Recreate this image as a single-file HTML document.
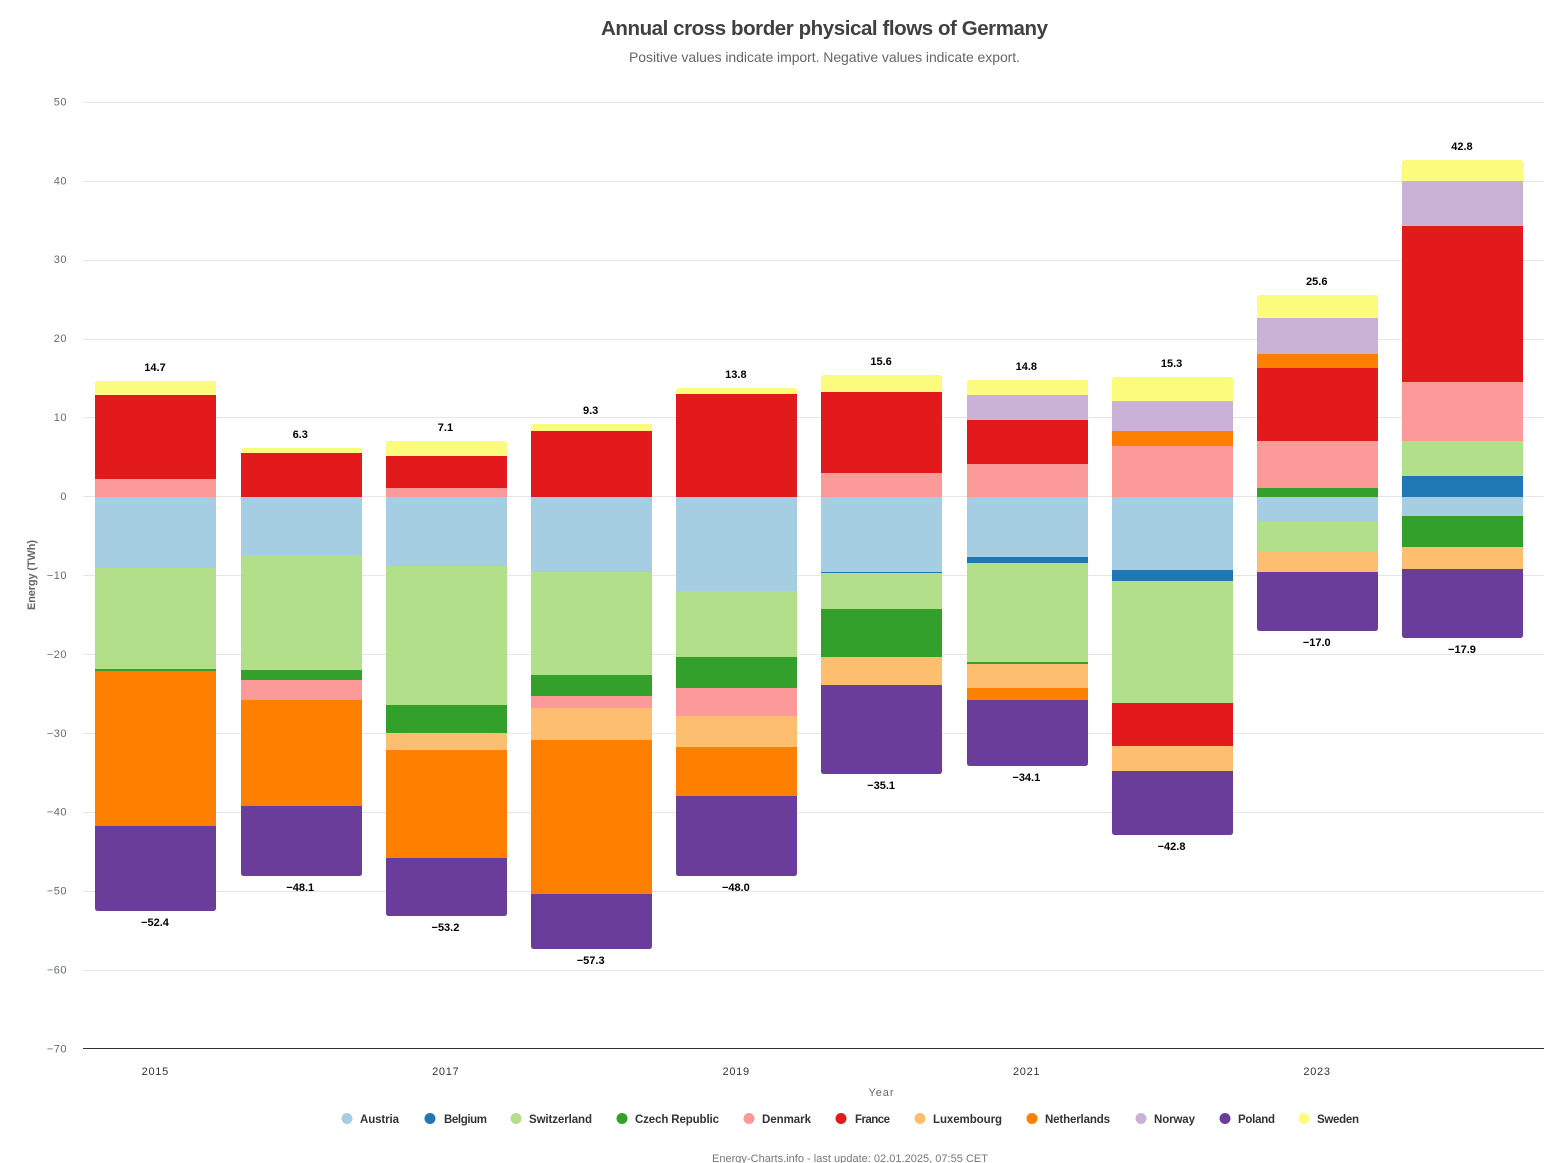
<!DOCTYPE html>
<html lang="en">
<head>
<meta charset="utf-8">
<title>Annual cross border physical flows of Germany</title>
<style>
html,body{margin:0;padding:0;background:#fff;width:1544px;height:1163px;overflow:hidden}
svg{display:block;font-family:"Liberation Sans",sans-serif}
</style>
</head>
<body>
<svg id="chart" xmlns="http://www.w3.org/2000/svg" width="1544" height="1163" viewBox="0 0 1544 1163">
  <rect x="0" y="0" width="1544" height="1163" fill="#ffffff"/>
  <text x="824.5" y="35" text-anchor="middle" font-size="20.5" font-weight="bold" fill="#404040" textLength="447">Annual cross border physical flows of Germany</text>
  <text x="824.5" y="62" text-anchor="middle" font-size="14" fill="#666666" textLength="391">Positive values indicate import. Negative values indicate export.</text>
  <g id="grid"></g>
  <g id="ylabels"></g>
  <g id="bars"></g>
  <g id="values"></g>
  <rect x="83" y="1048" width="1461" height="1" fill="#333333"/>
  <g id="xlabels"></g>
  <text transform="translate(35 575) rotate(-90)" text-anchor="middle" font-size="11" font-weight="bold" fill="#666666" textLength="70">Energy (TWh)</text>
  <text x="881" y="1096" text-anchor="middle" font-size="11" fill="#666666" textLength="25">Year</text>

  <g font-size="11.5" font-weight="bold" fill="#333333">
    <g><circle cx="347" cy="1118.5" r="5.5" fill="#a6cee3"/><text x="360" y="1123" textLength="39">Austria</text></g>
    <g><circle cx="430" cy="1118.5" r="5.5" fill="#1f78b4"/><text x="444" y="1123" textLength="43">Belgium</text></g>
    <g><circle cx="516" cy="1118.5" r="5.5" fill="#b2df8a"/><text x="529" y="1123" textLength="63">Switzerland</text></g>
    <g><circle cx="622" cy="1118.5" r="5.5" fill="#33a02c"/><text x="635" y="1123" textLength="84">Czech Republic</text></g>
    <g><circle cx="749" cy="1118.5" r="5.5" fill="#fb9a99"/><text x="762" y="1123" textLength="49">Denmark</text></g>
    <g><circle cx="841" cy="1118.5" r="5.5" fill="#e31a1c"/><text x="855" y="1123" textLength="35">France</text></g>
    <g><circle cx="920" cy="1118.5" r="5.5" fill="#fdbf6f"/><text x="933" y="1123" textLength="69">Luxembourg</text></g>
    <g><circle cx="1032" cy="1118.5" r="5.5" fill="#ff7f00"/><text x="1045" y="1123" textLength="65">Netherlands</text></g>
    <g><circle cx="1141" cy="1118.5" r="5.5" fill="#cab2d6"/><text x="1154" y="1123" textLength="41">Norway</text></g>
    <g><circle cx="1225" cy="1118.5" r="5.5" fill="#6a3d9a"/><text x="1238" y="1123" textLength="37">Poland</text></g>
    <g><circle cx="1304" cy="1118.5" r="5.5" fill="#fbfb7d"/><text x="1317" y="1123" textLength="42">Sweden</text></g>
  </g>

  <text x="850" y="1162" text-anchor="middle" font-size="11" fill="#777777" textLength="276">Energy-Charts.info - last update: 02.01.2025, 07:55 CET</text>
</svg>

<script>
const categories = ["2015","2016","2017","2018","2019","2020","2021","2022","2023","2024"];
const axisTicks = [50,40,30,20,10,0,-10,-20,-30,-40,-50,-60,-70];
const shownYears = ["2015","2017","2019","2021","2023"];

const austria     = [-9.0,-7.35,-8.75,-9.5,-11.95,-9.5,-7.6,-9.25,-3.15,-2.4];
const belgium     = [0,0,0,0,0,-0.15,-0.8,-1.4,0,2.65];
const switzerland = [-12.8,-14.6,-17.6,-13.05,-8.35,-4.55,-12.55,-15.45,-3.8,4.45];
const czech       = [-0.25,-1.25,-3.55,-2.65,-3.95,-6.1,-0.2,0,1.1,-3.95];
const denmark     = [2.3,-2.5,1.15,-1.5,-3.55,3.05,4.2,6.45,6.0,7.45];
const france      = [10.65,5.57,4.05,8.35,13.05,10.25,5.6,-5.45,9.25,19.8];
const luxembourg  = [0,0,-2.15,-4.05,-3.9,-3.55,-3.05,-3.15,-2.55,-2.8];
const netherlands = [-19.65,-13.45,-13.7,-19.55,-6.2,0,-1.5,1.9,1.8,0];
const norway      = [0,0,0,0,0,0,3.15,3.8,4.55,5.7];
const poland      = [-10.75,-8.9,-7.4,-7.0,-10.1,-11.25,-8.4,-8.1,-7.5,-8.75];
const sweden      = [1.77,0.67,1.9,0.95,0.75,2.2,1.85,3.1,2.9,2.65];

const importTotals = ["14.7","6.3","7.1","9.3","13.8","15.6","14.8","15.3","25.6","42.8"];
const exportTotals = ["-52.4","-48.1","-53.2","-57.3","-48.0","-35.1","-34.1","-42.8","-17.0","-17.9"];

const seriesNames = ["austria","belgium","switzerland","czech-republic","denmark","france","luxembourg","netherlands","norway","poland","sweden"];
const seriesValues = [austria,belgium,switzerland,czech,denmark,france,luxembourg,netherlands,norway,poland,sweden];
const seriesColors = ["#a6cee3","#1f78b4","#b2df8a","#33a02c","#fb9a99","#e31a1c","#fdbf6f","#ff7f00","#cab2d6","#6a3d9a","#fbfb7d"];

const NS = "http://www.w3.org/2000/svg";
const BAR_WIDTH = 121;
const RADIUS = 3;
function xCenter(i){ return 155.6 + i * 145.22; }
function yBar(v){ return Math.round(497 - v * 7.89); }
function yGrid(v){ return Math.round(496.3 - v * 7.888); }
function yLabel(v){ return 500 - v * 7.892; }
function fmt(v){ return String(v).replace("-", "\u2212"); }

const grid = document.getElementById("grid");
const ylabels = document.getElementById("ylabels");
axisTicks.forEach(function(t){
  if (t !== -70) {
    const line = document.createElementNS(NS, "rect");
    
    
    line.setAttribute("x", 83);
    line.setAttribute("y", yGrid(t));
    line.setAttribute("width", 1461);
    line.setAttribute("height", 1);
    line.setAttribute("fill", "#e6e6e6");
    grid.appendChild(line);
  }
  const lab = document.createElementNS(NS, "text");
  
  
  lab.setAttribute("x", 67);
  lab.setAttribute("y", yLabel(t));
  lab.setAttribute("text-anchor", "end");
  lab.setAttribute("font-size", 11);
  lab.setAttribute("letter-spacing", "0.5");
  lab.setAttribute("fill", "#5f6b78");
  lab.textContent = fmt(t);
  ylabels.appendChild(lab);
});

const xlabels = document.getElementById("xlabels");
shownYears.forEach(function(year){
  const lab = document.createElementNS(NS, "text");
  
  
  lab.setAttribute("x", xCenter(categories.indexOf(year)) - 0.3);
  lab.setAttribute("y", 1075);
  lab.setAttribute("text-anchor", "middle");
  lab.setAttribute("font-size", 11);
  lab.setAttribute("letter-spacing", "0.7");
  lab.setAttribute("fill", "#333333");
  lab.textContent = year;
  xlabels.appendChild(lab);
});

function segmentPath(left, right, top, bottom, roundTop, roundBottom){
  const r = Math.min(RADIUS, bottom - top);
  let d = "";
  if (roundTop) {
    d += "M" + left + " " + (top + r) + "Q" + left + " " + top + " " + (left + r) + " " + top;
    d += "L" + (right - r) + " " + top + "Q" + right + " " + top + " " + right + " " + (top + r);
  } else {
    d += "M" + left + " " + top + "L" + right + " " + top;
  }
  if (roundBottom) {
    d += "L" + right + " " + (bottom - r) + "Q" + right + " " + bottom + " " + (right - r) + " " + bottom;
    d += "L" + (left + r) + " " + bottom + "Q" + left + " " + bottom + " " + left + " " + (bottom - r);
  } else {
    d += "L" + right + " " + bottom + "L" + left + " " + bottom;
  }
  return d + "Z";
}

const bars = document.getElementById("bars");
const values = document.getElementById("values");
categories.forEach(function(year, c){
  const left = Math.round(xCenter(c) - BAR_WIDTH / 2 + 0.2);
  const right = left + BAR_WIDTH;
  const posIdx = [];
  const negIdx = [];
  seriesValues.forEach(function(arr, s){
    if (arr[c] > 0) posIdx.push(s);
    if (arr[c] < 0) negIdx.push(s);
  });

  let acc = 0;
  posIdx.forEach(function(s, k){
    const next = acc + seriesValues[s][c];
    const seg = document.createElementNS(NS, "path");
    
    
    seg.setAttribute("d", segmentPath(left, right, yBar(next), yBar(acc), k === posIdx.length - 1, false));
    seg.setAttribute("fill", seriesColors[s]);
    bars.appendChild(seg);
    acc = next;
  });
  const posTotal = acc;

  acc = 0;
  negIdx.forEach(function(s, k){
    const next = acc + seriesValues[s][c];
    const seg = document.createElementNS(NS, "path");
    
    
    seg.setAttribute("d", segmentPath(left, right, yBar(acc), yBar(next), false, k === negIdx.length - 1));
    seg.setAttribute("fill", seriesColors[s]);
    bars.appendChild(seg);
    acc = next;
  });
  const negTotal = acc;

  const top = document.createElementNS(NS, "text");
  
  
  top.setAttribute("x", xCenter(c) - 0.6);
  top.setAttribute("y", yBar(posTotal) - 10);
  top.setAttribute("text-anchor", "middle");
  top.setAttribute("font-size", 11);
  top.setAttribute("font-weight", "bold");
  top.setAttribute("fill", "#000000");
  top.textContent = importTotals[c];
  values.appendChild(top);

  const bot = document.createElementNS(NS, "text");
  
  
  bot.setAttribute("x", xCenter(c) - 0.6);
  bot.setAttribute("y", yBar(negTotal) + 15);
  bot.setAttribute("text-anchor", "middle");
  bot.setAttribute("font-size", 11);
  bot.setAttribute("font-weight", "bold");
  bot.setAttribute("fill", "#000000");
  bot.textContent = fmt(exportTotals[c]);
  values.appendChild(bot);
});
</script>
</body>
</html>
